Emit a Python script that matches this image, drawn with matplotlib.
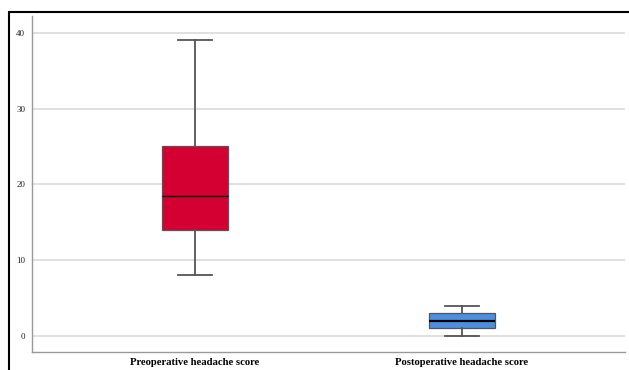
import matplotlib
matplotlib.use("Agg")
import matplotlib.pyplot as plt
from matplotlib.patches import Rectangle

# box statistics
categories = ["Preoperative headache score", "Postoperative headache score"]
whislo = [8, 0]
q1 = [14, 1]
med = [18.5, 2]
q3 = [25, 3]
whishi = [39, 4]
colors = ["#D50032", "#4A8FE0"]
yticks = [0, 10, 20, 30, 40]

stats = []
for i, name in enumerate(categories):
    stats.append({"label": name, "whislo": whislo[i], "q1": q1[i], "med": med[i],
                  "q3": q3[i], "whishi": whishi[i], "fliers": []})

W, H = 629, 370
fig = plt.figure(figsize=(W / 100, H / 100), dpi=100)
ax = fig.add_axes([32 / W, (H - 352) / H, (625 - 32) / W, (352 - 16) / H])

bp = ax.bxp(stats, positions=[0, 1], widths=0.25, patch_artist=True,
            showfliers=False,
            boxprops=dict(edgecolor="#555555", linewidth=0.9),
            medianprops=dict(color="black", linewidth=1.6),
            whiskerprops=dict(color="#555555", linewidth=1.3),
            capprops=dict(color="#555555", linewidth=1.3),
            capwidths=0.13, zorder=3)
for patch, c in zip(bp["boxes"], colors):
    patch.set_facecolor(c)
bp["medians"][0].set_linewidth(1.0)

ax.set_xlim(-0.61, 1.61)
ax.set_ylim(-2.1, 42.2)
ax.set_yticks(yticks)
ax.set_yticklabels([str(t) for t in yticks], family="Liberation Serif", fontsize=6.5, color="#222222")
ax.set_xticks([0, 1])
ax.set_xticklabels(categories, family="Liberation Serif", fontweight="bold", fontsize=7.7)
ax.tick_params(length=0, pad=5)
ax.tick_params(axis="x", pad=4.5)
ax.yaxis.grid(True, color="#DDDDDD", linewidth=1.3, zorder=0)
ax.set_axisbelow(True)
for s in ["top", "right"]:
    ax.spines[s].set_visible(False)
for s in ["left", "bottom"]:
    ax.spines[s].set_color("#999999")
    ax.spines[s].set_linewidth(1.0)

# black frame around the chart (cut at right and bottom)
fig.patches.append(Rectangle((9 / W, -0.1), 1.2, (H - 12) / H + 0.1, transform=fig.transFigure,
                             fill=False, edgecolor="black", linewidth=1.5, zorder=10))

fig.savefig("out.png", dpi=100)
